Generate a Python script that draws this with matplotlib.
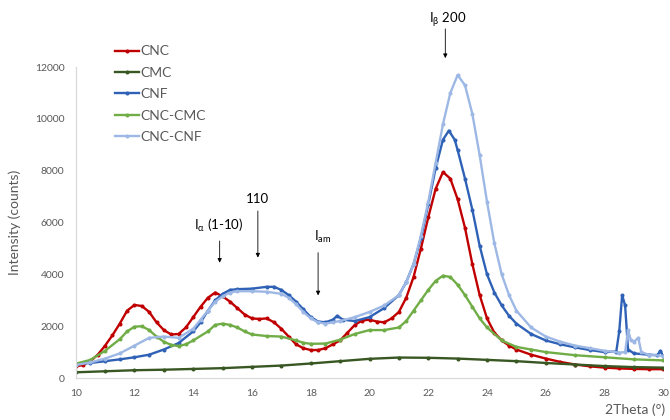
import matplotlib
matplotlib.use("Agg")
import matplotlib.pyplot as plt

plt.rcParams['font.family'] = ['Lato', 'DejaVu Sans']
plt.rcParams['mathtext.default'] = 'regular'

cnc_x = [10.0, 10.25, 10.5, 10.75, 11.0, 11.25, 11.5, 11.75, 12.0, 12.25, 12.5, 12.75, 13.0, 13.25, 13.5, 13.75,
         14.0, 14.25, 14.5, 14.75, 15.0, 15.25, 15.5, 15.75, 16.0, 16.25, 16.5, 16.75, 17.0, 17.25, 17.5, 17.75,
         18.0, 18.25, 18.5, 18.75, 19.0, 19.25, 19.5, 19.75, 20.0, 20.25, 20.5, 20.75, 21.0, 21.25, 21.5, 21.75,
         22.0, 22.25, 22.5, 22.75, 23.0, 23.25, 23.5, 23.75, 24.0, 24.25, 24.5, 24.75, 25.0, 25.5, 26.0, 26.5,
         27.0, 27.5, 28.0, 28.5, 29.0, 29.5, 30.0]
cnc_y = [450, 500, 650, 900, 1250, 1650, 2100, 2600, 2820, 2780, 2550, 2150, 1850, 1680, 1700, 1950,
         2350, 2750, 3100, 3300, 3150, 2950, 2700, 2450, 2300, 2280, 2300, 2150, 1900, 1600, 1300, 1150,
         1080, 1080, 1150, 1300, 1450, 1750, 2050, 2220, 2250, 2180, 2150, 2300, 2550, 3100, 3900, 5000,
         6200, 7300, 7950, 7700, 6900, 5800, 4400, 3200, 2300, 1750, 1450, 1250, 1100, 900, 750, 620,
         520, 450, 400, 370, 350, 340, 340]

cmc_x = [10, 11, 12, 13, 14, 15, 16, 17, 18, 19, 20, 21, 22, 23, 24, 25, 26, 27, 28, 29, 30]
cmc_y = [220, 260, 300, 320, 350, 380, 430, 480, 560, 650, 740, 790, 780, 750, 700, 650, 580, 520, 460, 420, 400]

cnf_x = [10.0, 10.5, 11.0, 11.5, 12.0, 12.5, 13.0, 13.5, 14.0, 14.25, 14.5, 14.75, 15.0, 15.25, 15.5, 16.0,
         16.5, 16.75, 17.0, 17.25, 17.5, 17.75, 18.0, 18.25, 18.5, 18.75, 18.9, 19.1, 19.5, 20.0, 20.5, 21.0,
         21.25, 21.5, 21.75, 22.0, 22.25, 22.5, 22.7, 22.9, 23.0, 23.25, 23.5, 23.75, 24.0, 24.25, 24.5, 24.75,
         25.0, 25.5, 26.0, 26.5, 27.0, 27.5, 28.0, 28.4, 28.5, 28.6, 28.7, 28.8, 29.0, 29.5, 29.8, 29.9, 30.0]
cnf_y = [550, 580, 650, 720, 800, 900, 1100, 1350, 1800, 2150, 2600, 3000, 3250, 3400, 3430, 3450,
         3520, 3520, 3400, 3200, 2950, 2650, 2350, 2180, 2150, 2250, 2400, 2250, 2200, 2350, 2700, 3200,
         3700, 4400, 5400, 6700, 8100, 9200, 9550, 9200, 8800, 7700, 6500, 5100, 4000, 3300, 2800, 2400,
         2100, 1700, 1450, 1300, 1180, 1080, 1000, 1020, 1800, 3200, 2800, 1100, 950, 900, 880, 1050, 850]

cnccmc_x = [10.0, 10.5, 11.0, 11.5, 11.75, 12.0, 12.25, 12.5, 12.75, 13.0, 13.25, 13.5, 13.75, 14.0, 14.5, 14.75,
            15.0, 15.25, 15.5, 15.75, 16.0, 16.5, 17.0, 17.5, 17.75, 18.0, 18.5, 19.0, 19.5, 20.0, 20.5, 21.0,
            21.25, 21.5, 21.75, 22.0, 22.25, 22.5, 22.75, 23.0, 23.25, 23.5, 23.75, 24.0, 24.5, 25.0, 25.5, 26.0,
            27.0, 28.0, 29.0, 30.0]
cnccmc_y = [550, 700, 1050, 1500, 1800, 1980, 2000, 1850, 1600, 1400, 1280, 1230, 1300, 1450, 1800, 2050,
            2100, 2050, 1950, 1800, 1680, 1620, 1600, 1450, 1360, 1320, 1330, 1480, 1700, 1850, 1850, 1950,
            2200, 2600, 3000, 3400, 3750, 3950, 3900, 3600, 3200, 2750, 2300, 1950, 1450, 1200, 1100, 1000,
            880, 800, 720, 680]

cnccnf_x = [10.0, 10.5, 11.0, 11.5, 12.0, 12.5, 13.0, 13.5, 14.0, 14.25, 14.5, 14.75, 15.0, 15.25, 15.5, 16.0,
            16.5, 17.0, 17.25, 17.5, 17.75, 18.0, 18.25, 18.5, 18.75, 19.0, 19.5, 20.0, 20.5, 21.0, 21.25, 21.5,
            21.75, 22.0, 22.25, 22.5, 22.75, 23.0, 23.25, 23.5, 23.75, 24.0, 24.25, 24.5, 24.75, 25.0, 25.5, 26.0,
            26.5, 27.0, 27.5, 28.0, 28.5, 28.7, 28.8, 28.9, 29.0, 29.15, 29.25, 29.5, 30.0]
cnccnf_y = [500, 600, 750, 950, 1250, 1550, 1600, 1550, 1900, 2250, 2600, 2950, 3150, 3300, 3350, 3350,
            3330, 3250, 3100, 2850, 2550, 2300, 2150, 2100, 2150, 2200, 2350, 2550, 2800, 3200, 3700, 4400,
            5500, 6800, 8300, 9800, 11000, 11700, 11300, 10200, 8600, 6800, 5200, 4000, 3200, 2600, 1950, 1600,
            1400, 1250, 1150, 1050, 980, 1000, 1850, 1450, 1400, 1550, 1000, 900, 850]

series_names = ['CNC', 'CMC', 'CNF', 'CNC-CMC', 'CNC-CNF']
series_colors = ['#C00000', '#385723', '#2F62B6', '#70AD47', '#9DB8E4']
series_x = [cnc_x, cmc_x, cnf_x, cnccmc_x, cnccnf_x]
series_y = [cnc_y, cmc_y, cnf_y, cnccmc_y, cnccnf_y]

x_ticks = [10, 12, 14, 16, 18, 20, 22, 24, 26, 28, 30]
y_ticks = [0, 2000, 4000, 6000, 8000, 10000, 12000]

fig = plt.figure(figsize=(6.7, 4.2), dpi=100)
ax = fig.add_axes([0.113, 0.10, 0.877, 0.74])

for nm, c, xs, ys in zip(series_names, series_colors, series_x, series_y):
    ax.plot(xs, ys, color=c, lw=1.7, marker='o', ms=1.9, label=nm)

ax.set_xlim(10, 30)
ax.set_ylim(0, 12000)
ax.set_xticks(x_ticks)
ax.set_yticks(y_ticks)
ax.tick_params(length=0, labelsize=7.5, labelcolor='#595959', pad=8)
for s in ['top', 'right']:
    ax.spines[s].set_visible(False)
for s in ['left', 'bottom']:
    ax.spines[s].set_color('#D9D9D9')
    ax.spines[s].set_linewidth(0.9)

ax.set_ylabel('Intensity (counts)', fontsize=10, color='#595959', labelpad=10)
fig.text(0.992, 0.025, '2Theta (°)', ha='right', va='center', fontsize=10, color='#595959')

leg = ax.legend(loc='upper left', bbox_to_anchor=(0.058, 1.088), frameon=False, fontsize=10,
                handlelength=1.7, handletextpad=0.1, labelspacing=0.68, borderaxespad=0)
for t in leg.get_texts():
    t.set_color('#595959')

arrow = dict(arrowstyle='-|>', color='black', lw=0.6, mutation_scale=6, shrinkA=0, shrinkB=0)
ax.annotate('', xy=(22.58, 12350), xytext=(22.58, 13480), arrowprops=arrow, annotation_clip=False)
ax.text(22.65, 13850, r'I$_{β}$ 200', ha='center', va='center', fontsize=9.5, clip_on=False)

ax.annotate('', xy=(16.2, 4650), xytext=(16.2, 6450), arrowprops=arrow)
ax.text(16.19, 6900, '110', ha='center', va='center', fontsize=9.5)

ax.annotate('', xy=(14.9, 4450), xytext=(14.9, 5290), arrowprops=arrow)
ax.text(14.88, 5900, r'I$_{α}$ (1-10)', ha='center', va='center', fontsize=9.5)

ax.annotate('', xy=(18.25, 3190), xytext=(18.25, 4840), arrowprops=arrow)
ax.text(18.4, 5460, r'I$_{am}$', ha='center', va='center', fontsize=9.5)

fig.savefig('out.png', dpi=100)
